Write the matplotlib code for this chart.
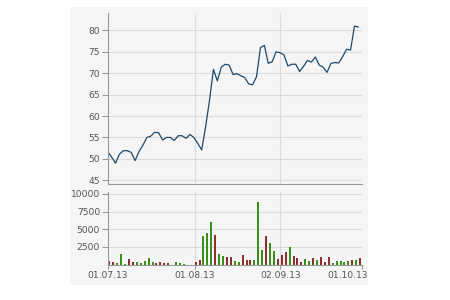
#!/usr/bin/env python3

# price + volume chart, trading days Jul-Oct 2013
import matplotlib
matplotlib.use('Agg')
import matplotlib.pyplot as plt
from matplotlib.patches import Rectangle
from matplotlib.transforms import ScaledTranslation

# closing prices, one per trading day
price = [51.7, 50.4, 49.0, 51.1, 51.9, 51.9, 51.5, 49.6, 51.7, 53.2,
         55.0, 55.3, 56.2, 56.1, 54.4, 55.0, 55.0, 54.3, 55.4, 55.4,
         54.8, 55.7, 55.0, 53.6, 52.1, 57.5, 63.7, 70.9, 68.2, 71.4,
         72.1, 71.9, 69.7, 69.9, 69.4, 69.0, 67.5, 67.3, 69.2, 76.0,
         76.5, 72.3, 72.7, 75.0, 74.8, 74.3, 71.7, 72.1, 72.1, 70.4,
         71.6, 73.0, 72.6, 73.8, 71.9, 71.4, 70.2, 72.3, 72.5, 72.4,
         73.9, 75.6, 75.4, 81.0, 80.8]

# volume per day and whether the bar is green (up) or red (down)
volume = [500, 300, 200, 1450, 100, 800, 300, 300, 150, 500,
          900, 300, 200, 300, 150, 150, 0, 400, 150, 100,
          0, 0, 300, 700, 4000, 4500, 6000, 4200, 1500, 1200,
          1000, 1000, 500, 400, 1300, 700, 700, 700, 8800, 2000,
          4100, 3100, 1900, 800, 1300, 1700, 2500, 1200, 900, 300,
          800, 500, 900, 700, 1000, 400, 1000, 200, 500, 500,
          300, 500, 700, 600, 900]
up = [0, 0, 1, 1, 1, 0, 0, 1, 1, 1,
      1, 1, 0, 0, 0, 0, 0, 1, 1, 1,
      0, 0, 0, 0, 1, 1, 1, 0, 1, 1,
      0, 0, 1, 1, 0, 0, 0, 1, 1, 1,
      0, 1, 1, 0, 0, 0, 1, 0, 0, 0,
      1, 1, 0, 1, 0, 0, 0, 1, 1, 1,
      1, 1, 0, 1, 0]

date_pos = [0, 22.3, 44.1, 64.85]
date_labels = ['01.07.13', '01.08.13', '02.09.13', '01.10.13']
price_ticks = [45, 50, 55, 60, 65, 70, 75, 80]
vol_ticks = [2500, 5000, 7500, 10000]

bg = '#f5f5f5'
grid_c = '#dcdcdc'
spine_c = '#9a9a9a'
text_c = '#555555'
fs = 6.6

fig = plt.figure(figsize=(4.5, 3), dpi=100)
fig.patch.set_facecolor('white')
fig.patches.append(Rectangle((70/450, 15/300), 298/450, 278/300,
                             transform=fig.transFigure, facecolor=bg,
                             edgecolor='none', zorder=-10))

ax = fig.add_axes([107.7/450, 0.3877, 254/450, 0.568])
ax2 = fig.add_axes([107.7/450, 0.1183, 254/450, 0.2407])

for a in (ax, ax2):
    a.set_facecolor('none')
    a.spines['top'].set_visible(False)
    a.spines['right'].set_visible(False)
    a.spines['left'].set_color(spine_c)
    a.spines['bottom'].set_color(spine_c)
    a.set_xlim(0, 64.85)
    a.yaxis.grid(True, color=grid_c, lw=0.8)
    a.set_axisbelow(True)
    for p in date_pos[1:3]:
        a.axvline(p, color=grid_c, lw=0.8, zorder=0)
    a.tick_params(axis='y', colors=spine_c, labelcolor=text_c, labelsize=fs,
                  length=4, width=0.8, pad=1.5)
    a.tick_params(axis='x', colors=spine_c, labelcolor=text_c, labelsize=fs,
                  length=3, width=0.8, pad=2)

# price line
x = list(range(len(price)))
ax.plot(x, price, color='#1e4a6a', lw=0.9)
ax.set_ylim(44.2, 84)
ax.set_yticks(price_ticks)
ax.set_xticks([])

# volume bars
colors = ['#3a8f1c' if u else '#8c2f2f' for u in up]
ax2.bar([i + 0.45 for i in x], volume, width=0.5, color=colors)
ax2.set_ylim(0, 10220)
ax2.set_yticks(vol_ticks)
ax2.set_xticks(date_pos)
ax2.set_xticklabels(date_labels)
last = ax2.get_xticklabels()[-1]
last.set_transform(last.get_transform() + ScaledTranslation(-0.145, 0, fig.dpi_scale_trans))

fig.savefig('out.png', dpi=100)
